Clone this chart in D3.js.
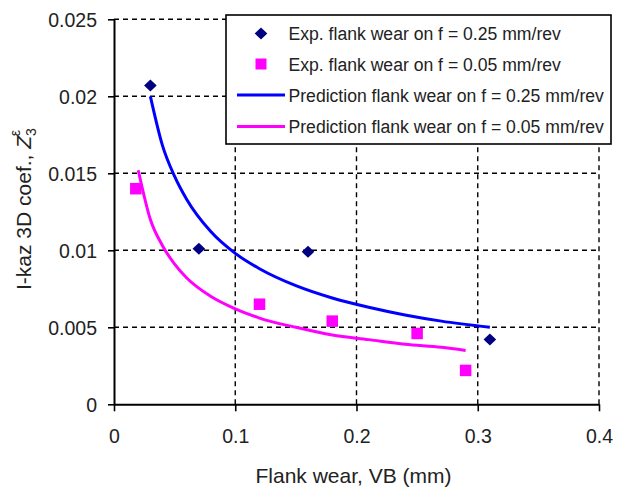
<!DOCTYPE html>
<html>
<head>
<meta charset="utf-8">
<script src="https://cdn.jsdelivr.net/npm/d3@7"></script>
<style>
  html, body { margin: 0; padding: 0; background: #fff; }
  svg { display: block; font-family: "Liberation Sans", Arial, sans-serif; }
</style>
</head>
<body>
<svg id="chart" width="622" height="489"></svg>
<script>
// ---------- data ----------
const expHighX = [0.03, 0.07, 0.16, 0.31];
const expHighY = [0.0207, 0.0101, 0.0099, 0.0042];

const expLowX = [0.018, 0.12, 0.18, 0.25, 0.29];
const expLowY = [0.0140, 0.0065, 0.0054, 0.0046, 0.0022];

const predHighX = [0.03, 0.04, 0.05, 0.06, 0.08, 0.10, 0.12, 0.15, 0.18, 0.21, 0.24, 0.27, 0.31];
const predHighY = [0.0200, 0.0168, 0.0148, 0.0133, 0.0112, 0.0098, 0.0088, 0.0077, 0.0069, 0.0063, 0.0058, 0.0054, 0.0050];

const predLowX = [0.02, 0.03, 0.04, 0.05, 0.06, 0.08, 0.10, 0.12, 0.15, 0.18, 0.21, 0.24, 0.27, 0.29];
const predLowY = [0.0152, 0.0120, 0.0103, 0.0091, 0.0082, 0.0070, 0.0062, 0.0056, 0.0050, 0.0045, 0.0042, 0.0039, 0.0037, 0.0035];

const xTicks = [0, 0.1, 0.2, 0.3, 0.4];
const xTickLabels = ["0", "0.1", "0.2", "0.3", "0.4"];
const yTicks = [0, 0.005, 0.01, 0.015, 0.02, 0.025];
const yTickLabels = ["0", "0.005", "0.01", "0.015", "0.02", "0.025"];

const legendLabels = [
  "Exp. flank wear on f = 0.25 mm/rev",
  "Exp. flank wear on f = 0.05 mm/rev",
  "Prediction flank wear on f = 0.25 mm/rev",
  "Prediction flank wear on f = 0.05 mm/rev"
];

// ---------- layout ----------
const svg = d3.select("#chart");
const x = d3.scaleLinear().domain([0, 0.4]).range([114, 599]);
const y = d3.scaleLinear().domain([0, 0.025]).range([404.3, 19.3]);

const BLUE = "#0000ff", PINK = "#ff00ff", NAVY = "#000080";

// grid
const grid = svg.append("g").attr("stroke", "#000").attr("stroke-width", 1.4)
  .attr("stroke-dasharray", "5,4");
grid.selectAll("line.h").data(yTicks.filter(d => d > 0)).enter().append("line")
  .attr("x1", x(0)).attr("x2", x(0.4))
  .attr("y1", d => y(d)).attr("y2", d => y(d));
grid.selectAll("line.v").data(xTicks.filter(d => d > 0)).enter().append("line")
  .attr("y1", y(0)).attr("y2", y(0.025))
  .attr("x1", d => x(d)).attr("x2", d => x(d));

// axes
const fmtX = d => xTickLabels[xTicks.indexOf(d)];
const fmtY = d => yTickLabels[yTicks.indexOf(d)];

const xAxis = svg.append("g").attr("transform", `translate(0,${y(0)})`)
  .call(d3.axisBottom(x).tickValues(xTicks).tickFormat(fmtX).tickSize(7).tickPadding(18).tickSizeOuter(0));
const yAxis = svg.append("g").attr("transform", `translate(${x(0)},0)`)
  .call(d3.axisLeft(y).tickValues(yTicks).tickFormat(fmtY).tickSize(6).tickPadding(11).tickSizeOuter(0));

[xAxis, yAxis].forEach(a => {
  a.select(".domain").attr("stroke", "#000").attr("stroke-width", 2);
  a.selectAll(".tick line").attr("stroke", "#000").attr("stroke-width", 1.6);
  a.selectAll(".tick text").attr("fill", "#222").style("font-size", "19.5px")
    .style("font-family", "'Liberation Sans', Arial, sans-serif");
});
yAxis.selectAll(".tick text").attr("dy", "0.35em");

// axis titles
svg.append("text").attr("x", 353.5).attr("y", 483).attr("text-anchor", "middle")
  .style("font-size", "21px").attr("fill", "#222").text("Flank wear, VB (mm)");

const yl = svg.append("text").attr("transform", "translate(31,290) rotate(-90)")
  .attr("text-anchor", "start").style("font-size", "21px").attr("fill", "#222");
yl.append("tspan").text("I-kaz 3D coef., ");
yl.append("tspan").style("font-style", "italic").text("Z");
yl.append("tspan").attr("dy", 5).style("font-size", "14px").text("3");
yl.append("tspan").attr("dx", -8).attr("dy", -16).style("font-size", "14px").text("ε");

// prediction curves
const line = d3.line().x(d => x(d[0])).y(d => y(d[1])).curve(d3.curveMonotoneX);
svg.append("path").datum(predHighX.map((v, i) => [v, predHighY[i]]))
  .attr("d", line).attr("fill", "none").attr("stroke", BLUE).attr("stroke-width", 3);
svg.append("path").datum(predLowX.map((v, i) => [v, predLowY[i]]))
  .attr("d", line).attr("fill", "none").attr("stroke", PINK).attr("stroke-width", 3);

// markers
const diamond = "M0,-6L6.3,0L0,6L-6.3,0Z";
svg.selectAll("path.dia").data(expHighX.map((v, i) => [v, expHighY[i]])).enter()
  .append("path").attr("d", diamond).attr("fill", NAVY)
  .attr("transform", d => `translate(${x(d[0])},${y(d[1])})`);
svg.selectAll("rect.sq").data(expLowX.map((v, i) => [v, expLowY[i]])).enter()
  .append("rect").attr("width", 11.5).attr("height", 11.5).attr("fill", PINK)
  .attr("x", d => x(d[0]) - 5.75).attr("y", d => y(d[1]) - 5.75);

// legend
const lg = svg.append("g");
lg.append("rect").attr("x", 226).attr("y", 15).attr("width", 385).attr("height", 129)
  .attr("fill", "#fff").attr("stroke", "#000").attr("stroke-width", 1.6);
const rows = [33.5, 64, 95, 126.5];
lg.append("path").attr("d", diamond).attr("fill", NAVY).attr("transform", `translate(261,${rows[0]})`);
lg.append("rect").attr("x", 255.5).attr("y", rows[1] - 5.5).attr("width", 11).attr("height", 11).attr("fill", PINK);
lg.append("line").attr("x1", 237).attr("x2", 285).attr("y1", rows[2]).attr("y2", rows[2]).attr("stroke", BLUE).attr("stroke-width", 3);
lg.append("line").attr("x1", 237).attr("x2", 285).attr("y1", rows[3]).attr("y2", rows[3]).attr("stroke", PINK).attr("stroke-width", 3);
lg.selectAll("text").data(legendLabels).enter().append("text")
  .attr("x", 288.5).attr("y", (d, i) => rows[i] + 6.5)
  .style("font-size", "17.6px").attr("fill", "#222").text(d => d);
</script>
</body>
</html>
